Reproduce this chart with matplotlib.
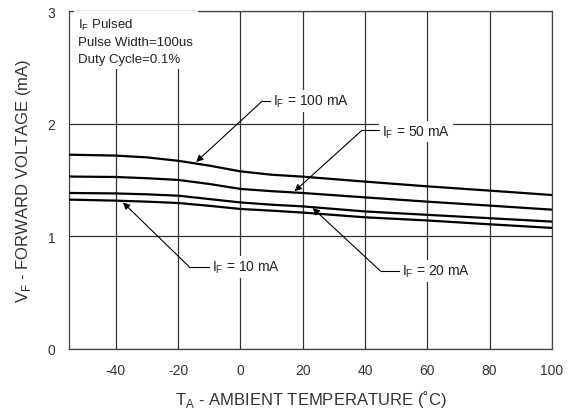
import numpy as np
import matplotlib.pyplot as plt

plt.rcParams['font.family'] = ['Liberation Sans', 'DejaVu Sans']
plt.rcParams['axes.unicode_minus'] = False

temp = [-55, -40, -30, -20, -10, 0, 10, 20, 40, 60, 80, 100]
vf_100 = [1.724, 1.716, 1.70, 1.67, 1.627, 1.576, 1.546, 1.529, 1.485, 1.443, 1.405, 1.366]
vf_50 = [1.53, 1.526, 1.515, 1.50, 1.464, 1.42, 1.40, 1.384, 1.345, 1.307, 1.272, 1.236]
vf_20 = [1.384, 1.38, 1.372, 1.36, 1.33, 1.30, 1.28, 1.265, 1.22, 1.19, 1.16, 1.13]
vf_10 = [1.325, 1.316, 1.307, 1.295, 1.27, 1.242, 1.227, 1.21, 1.168, 1.14, 1.106, 1.074]

xticks = [-40, -20, 0, 20, 40, 60, 80, 100]
yticks = [0, 1, 2, 3]

fig = plt.figure(figsize=(5.76, 4.14), dpi=100)
ax = fig.add_axes([0.12, 0.155, 0.838, 0.816])

for v in (vf_100, vf_50, vf_20, vf_10):
    ax.plot(temp, v, color='black', lw=1.6, zorder=3, solid_joinstyle='round')

ax.set_xlim(-55, 100)
ax.set_ylim(0, 3)
ax.set_xticks(xticks)
ax.set_yticks(yticks)
ax.grid(True, color='#333333', lw=0.9, zorder=1)
ax.set_axisbelow(True)
ax.tick_params(length=0, labelsize=10, labelcolor='#333333', pad=10)
for s in ax.spines.values():
    s.set_color('#444444')
    s.set_linewidth(0.9)

ax.set_xlabel('T$_\\mathregular{A}$ - AMBIENT TEMPERATURE (\u02daC)', fontsize=12, color='#333333', labelpad=8)
ax.set_ylabel('V$_\\mathregular{F}$ - FORWARD VOLTAGE (mA)', fontsize=12, color='#333333', labelpad=10)

ax.text(-52, 2.95, 'I$_\\mathregular{F}$ Pulsed\nPulse Width=100us\nDuty Cycle=0.1%',
        fontsize=9.5, color='#222222', va='top', ha='left', linespacing=1.5,
        bbox=dict(facecolor='white', edgecolor='none', pad=3), zorder=4)

arrow = dict(arrowstyle='-|>', color='black', lw=0.8, mutation_scale=10, shrinkA=0, shrinkB=0)
bbox = dict(facecolor='white', edgecolor='none', pad=2)

notes = [
    ('I$_\\mathregular{F}$ = 100 mA', (-14.2, 1.66), (10.5, 2.2), (7.0, 2.2)),
    ('I$_\\mathregular{F}$ = 50 mA', (17.4, 1.40), (45.5, 1.93), (39.0, 1.94)),
    ('I$_\\mathregular{F}$ = 20 mA', (23.2, 1.25), (52.0, 0.69), (45.0, 0.69)),
    ('I$_\\mathregular{F}$ = 10 mA', (-37.7, 1.30), (-9.0, 0.73), (-16.5, 0.73)),
]
for label, tip, txt, elbow in notes:
    ax.text(txt[0], txt[1], label, fontsize=10, color='#222222', va='center', ha='left',
            bbox=bbox, zorder=4)
    ax.plot([elbow[0], txt[0] - 1.0], [elbow[1], elbow[1]], color='black', lw=0.8, zorder=4)
    ax.annotate('', xy=tip, xytext=elbow, arrowprops=arrow, zorder=4)

fig.savefig('out.png', dpi=100)
